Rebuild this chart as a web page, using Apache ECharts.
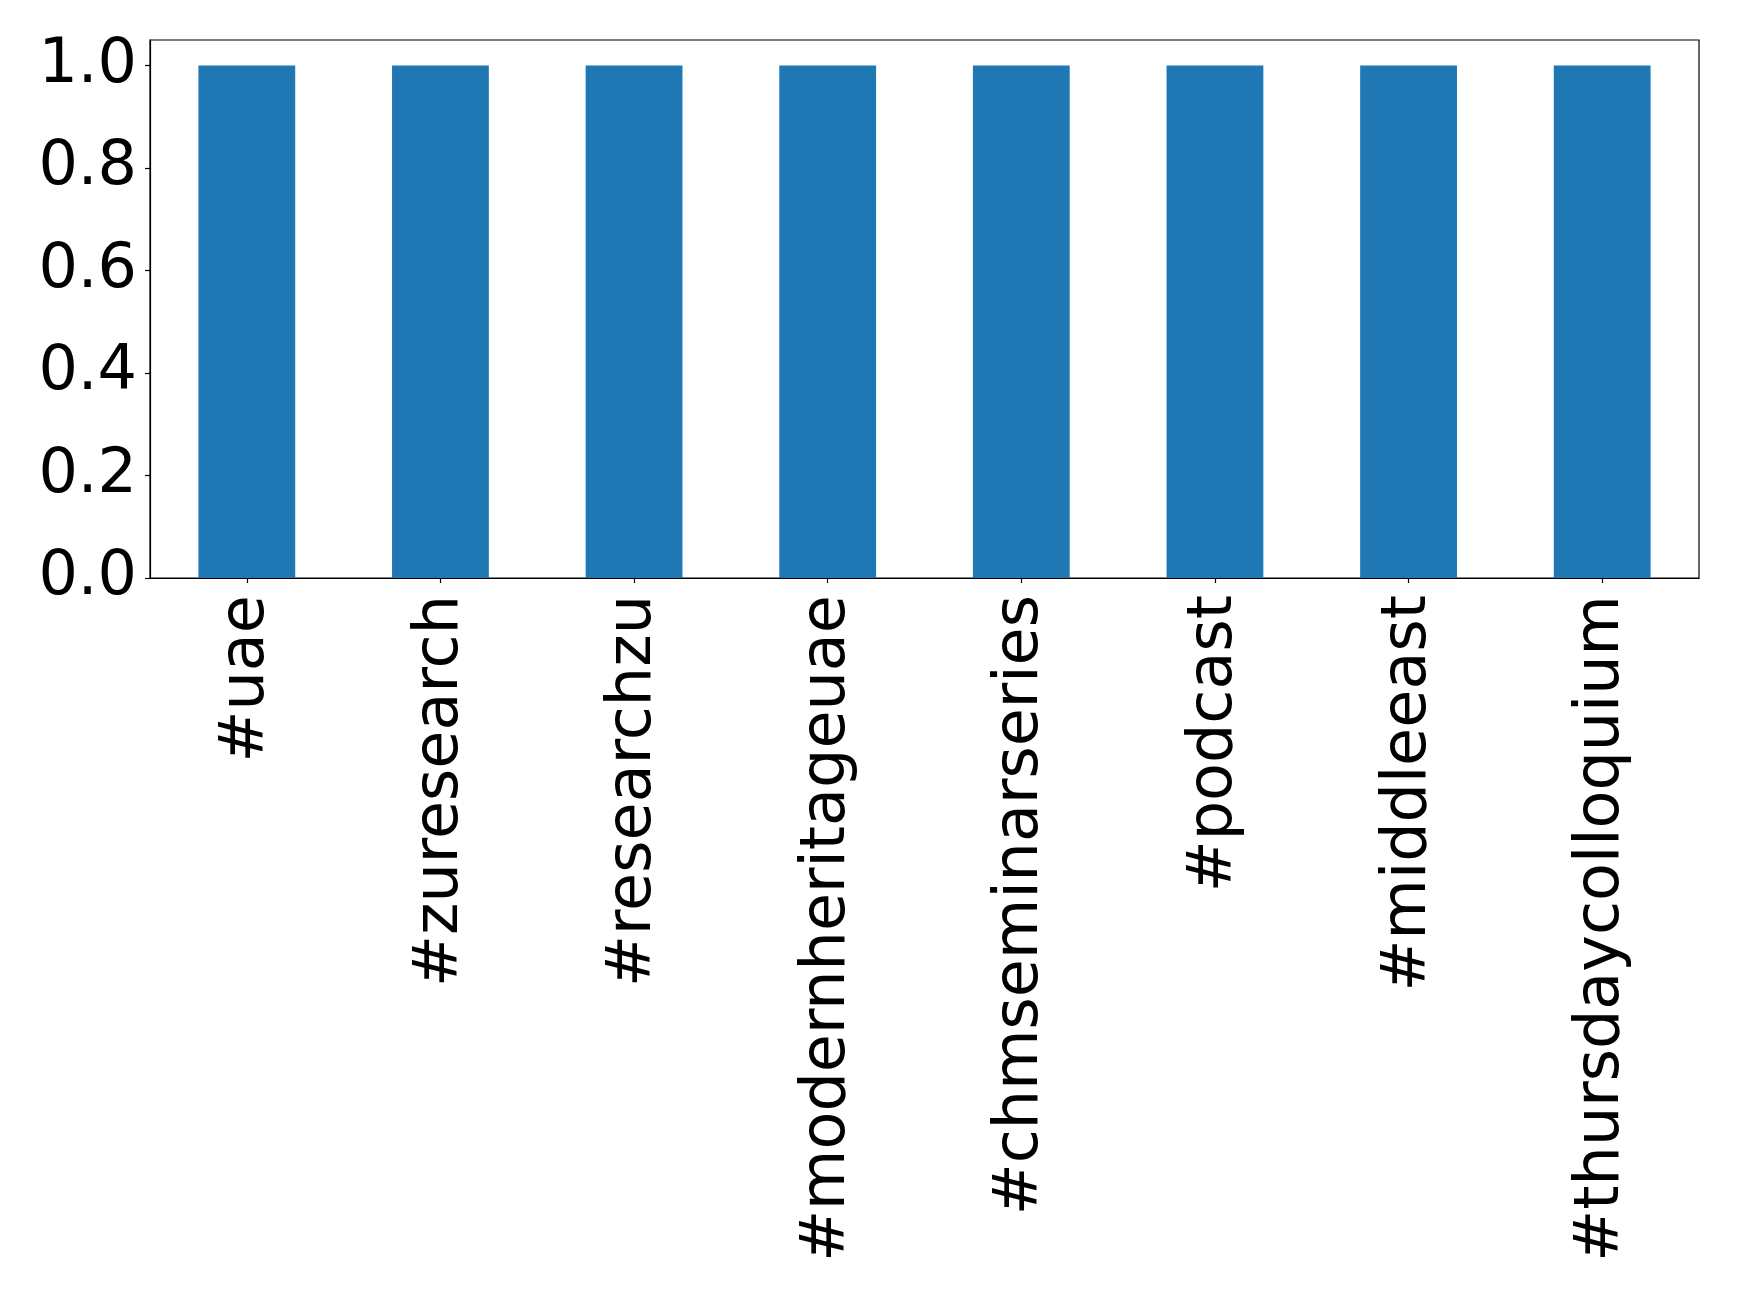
<!DOCTYPE html>
<html>
<head>
<meta charset="utf-8">
<script src="https://cdn.jsdelivr.net/npm/echarts@6/dist/echarts.min.js"></script>
<style>html,body{margin:0;padding:0;background:#fff;}#chart{width:1739px;height:1300px;}</style>
</head>
<body>
<div id="chart"></div>
<script>
const categories = ['#uae', '#zuresearch', '#researchzu', '#modernheritageuae', '#chmseminarseries', '#podcast', '#middleeast', '#thursdaycolloquium'];
const values = [1, 1, 1, 1, 1, 1, 1, 1];
const yTicks = [0, 0.2, 0.4, 0.6, 0.8, 1.0];

const chart = echarts.init(document.getElementById('chart'), null, {renderer: 'canvas'});
chart.setOption({
  animation: false,
  backgroundColor: '#ffffff',
  grid: {left: 150, right: 40, top: 40, bottom: 722, containLabel: false, show: true, borderColor: '#000', borderWidth: 1.2, backgroundColor: 'transparent'},
  xAxis: {
    type: 'category',
    data: categories,
    boundaryGap: true,
    axisLine: {show: true, lineStyle: {color: '#000', width: 1.2}},
    axisTick: {show: true, alignWithLabel: true, length: 5, lineStyle: {color: '#000', width: 1.2}},
    axisLabel: {rotate: 90, margin: 17, color: '#000', fontSize: 62, fontFamily: 'DejaVu Sans', interval: 0, padding: [8, 0, 0, 0]},
    splitLine: {show: false}
  },
  yAxis: {
    type: 'value',
    min: 0,
    max: 1.05,
    interval: 0.2,
    axisLine: {show: true, lineStyle: {color: '#000', width: 1.2}},
    axisTick: {show: true, length: 5, customValues: yTicks, lineStyle: {color: '#000', width: 1.2}},
    axisLabel: {margin: 13, color: '#000', fontSize: 62, fontFamily: 'DejaVu Sans', customValues: yTicks, formatter: v => v.toFixed(1)},
    splitLine: {show: false}
  },
  series: [{
    type: 'bar',
    data: values,
    barWidth: '50%',
    itemStyle: {color: '#1f77b4'}
  }]
});
</script>
</body>
</html>
